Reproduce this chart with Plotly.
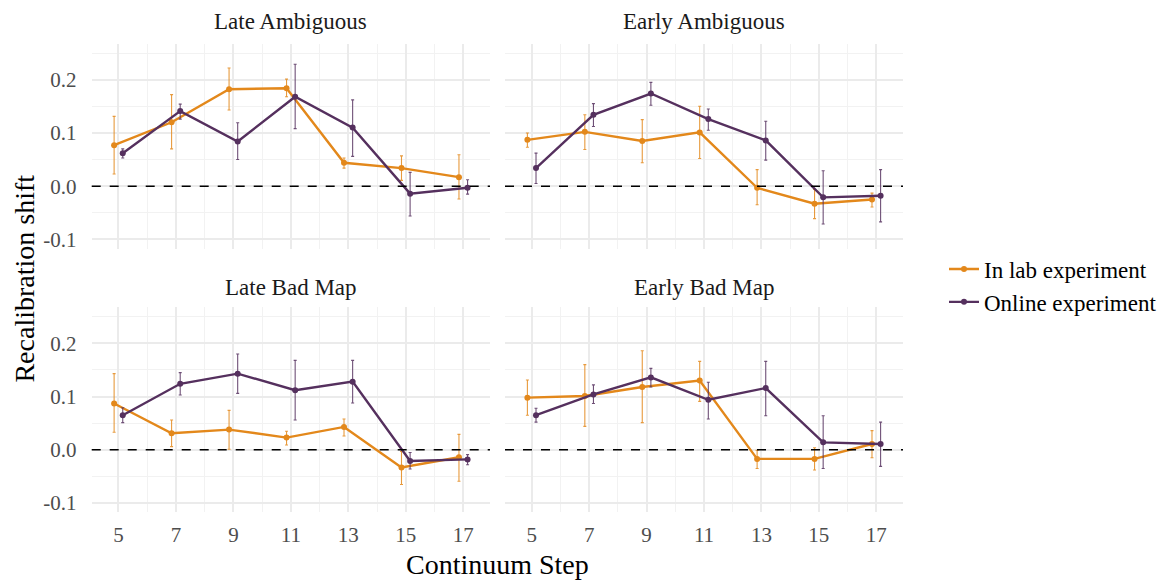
import plotly.graph_objects as go

W, H = 1163, 583

steps = [5, 7, 9, 11, 13, 15, 17]
panels = ["Late Ambiguous", "Early Ambiguous", "Late Bad Map", "Early Bad Map"]
groups = ["In lab experiment", "Online experiment"]

# mean, lower, upper for each panel / group
lab_mean = {
    "Late Ambiguous":  [0.077, 0.120, 0.182, 0.184, 0.044, 0.034, 0.017],
    "Early Ambiguous": [0.087, 0.102, 0.085, 0.101, -0.003, -0.033, -0.025],
    "Late Bad Map":    [0.087, 0.031, 0.038, 0.023, 0.043, -0.033, -0.014],
    "Early Bad Map":   [0.098, 0.101, 0.118, 0.130, -0.017, -0.017, 0.011],
}
lab_lo = {
    "Late Ambiguous":  [0.023, 0.070, 0.143, 0.168, 0.034, 0.011, -0.024],
    "Early Ambiguous": [0.073, 0.069, 0.044, 0.052, -0.035, -0.061, -0.039],
    "Late Bad Map":    [0.033, 0.006, 0.001, 0.009, 0.026, -0.065, -0.059],
    "Early Bad Map":   [0.065, 0.044, 0.051, 0.091, -0.035, -0.038, -0.015],
}
lab_hi = {
    "Late Ambiguous":  [0.131, 0.172, 0.222, 0.201, 0.053, 0.057, 0.059],
    "Early Ambiguous": [0.100, 0.134, 0.125, 0.150, 0.031, -0.006, -0.013],
    "Late Bad Map":    [0.143, 0.056, 0.074, 0.035, 0.058, -0.003, 0.029],
    "Early Bad Map":   [0.131, 0.160, 0.186, 0.166, -0.001, 0.004, 0.036],
}
online_mean = {
    "Late Ambiguous":  [0.062, 0.141, 0.084, 0.168, 0.110, -0.014, -0.003],
    "Early Ambiguous": [0.034, 0.134, 0.174, 0.126, 0.086, -0.021, -0.018],
    "Late Bad Map":    [0.065, 0.124, 0.143, 0.112, 0.128, -0.021, -0.018],
    "Early Bad Map":   [0.065, 0.104, 0.136, 0.094, 0.116, 0.014, 0.011],
}
online_lo = {
    "Late Ambiguous":  [0.053, 0.126, 0.050, 0.108, 0.056, -0.056, -0.015],
    "Early Ambiguous": [0.005, 0.112, 0.152, 0.105, 0.049, -0.071, -0.067],
    "Late Bad Map":    [0.051, 0.103, 0.106, 0.056, 0.088, -0.036, -0.028],
    "Early Bad Map":   [0.052, 0.087, 0.118, 0.058, 0.064, -0.035, -0.031],
}
online_hi = {
    "Late Ambiguous":  [0.070, 0.154, 0.119, 0.229, 0.162, 0.026, 0.012],
    "Early Ambiguous": [0.062, 0.155, 0.195, 0.145, 0.122, 0.029, 0.031],
    "Late Bad Map":    [0.079, 0.145, 0.180, 0.168, 0.168, -0.005, -0.009],
    "Early Bad Map":   [0.078, 0.122, 0.153, 0.127, 0.166, 0.064, 0.052],
}

x_ticks = [5, 7, 9, 11, 13, 15, 17]
x_minor = [6, 8, 10, 12, 14, 16]
y_ticks = [-0.1, 0.0, 0.1, 0.2]
y_ticklabels = ["-0.1", "0.0", "0.1", "0.2"]
y_minor = [-0.05, 0.05, 0.15, 0.25]

ORANGE = "#E3881B"
ORANGE_ERR = "rgba(227,136,27,0.85)"
PURPLE = "#55305E"
PURPLE_ERR = "rgba(85,48,94,0.85)"
FONT = "Liberation Serif, Times New Roman, serif"
DODGE = 0.15

series = [
    (groups[0], lab_mean, lab_lo, lab_hi, -DODGE, ORANGE, ORANGE_ERR),
    (groups[1], online_mean, online_lo, online_hi, DODGE, PURPLE, PURPLE_ERR),
]

def xd(a, b):
    return [a / W, b / W]

def yd(top, bottom):
    return [1 - bottom / H, 1 - top / H]

domains = [
    (xd(91.7, 490), yd(44, 250)),
    (xd(505, 903), yd(44, 250)),
    (xd(91.7, 490), yd(309, 515)),
    (xd(505, 903), yd(309, 515)),
]

fig = go.Figure()

for i, p in enumerate(panels):
    ax = "" if i == 0 else str(i + 1)
    for name, mean, lo, hi, off, col, ecol in series:
        m = mean[p]
        fig.add_trace(go.Scatter(
            x=[s + off for s in steps],
            y=m,
            mode="lines+markers",
            name=name,
            legendgroup=name,
            showlegend=(i == 0),
            line=dict(color=col, width=2.4),
            marker=dict(color=col, size=6),
            error_y=dict(
                type="data", symmetric=False,
                array=[h - v for h, v in zip(hi[p], m)],
                arrayminus=[v - l for v, l in zip(m, lo[p])],
                color=ecol, thickness=1.1, width=1.5,
            ),
            xaxis="x" + ax, yaxis="y" + ax,
        ))

grid_major = "#EBEBEB"
grid_minor = "#F2F2F2"

layout = dict(
    width=W, height=H,
    margin=dict(l=0, r=0, t=0, b=0),
    paper_bgcolor="white", plot_bgcolor="white",
    font=dict(family=FONT, color="#1A1A1A"),
    showlegend=True,
    legend=dict(
        x=944 / W, y=1 - 287 / H, xanchor="left", yanchor="middle",
        font=dict(family=FONT, size=23, color="#000000"),
        bgcolor="rgba(0,0,0,0)", itemwidth=30, tracegroupgap=0,
    ),
    annotations=[],
    shapes=[],
)

centers = [(290.9, 22), (704, 22), (290.9, 289), (704, 289)]

for i, p in enumerate(panels):
    ax = "" if i == 0 else str(i + 1)
    xdom, ydom = domains[i]
    bottom = i >= 2
    left = i % 2 == 0
    layout["xaxis" + ax] = dict(
        domain=xdom, anchor="y" + ax, range=[4.07, 17.93],
        tickvals=x_ticks, ticktext=[str(t) for t in x_ticks],
        showticklabels=bottom,
        tickfont=dict(family=FONT, size=21, color="#4D4D4D"),
        showgrid=True, gridcolor=grid_major, gridwidth=2,
        minor=dict(tickvals=x_minor, showgrid=True, gridcolor=grid_minor, gridwidth=1.1),
        zeroline=False, showline=False,
        ticks="outside", ticklen=3, tickcolor="rgba(0,0,0,0)",
    )
    layout["yaxis" + ax] = dict(
        domain=ydom, anchor="x" + ax, range=[-0.1174, 0.2674],
        tickvals=y_ticks, ticktext=y_ticklabels,
        showticklabels=left,
        tickfont=dict(family=FONT, size=21, color="#4D4D4D"),
        showgrid=True, gridcolor=grid_major, gridwidth=2,
        minor=dict(tickvals=y_minor, showgrid=True, gridcolor=grid_minor, gridwidth=1.1),
        zeroline=False, showline=False,
        ticks="outside", ticklen=10, tickcolor="rgba(0,0,0,0)",
    )
    cx, cy = centers[i]
    layout["annotations"].append(dict(
        text=p, x=cx / W, y=1 - cy / H, xref="paper", yref="paper",
        xanchor="center", yanchor="middle", showarrow=False,
        font=dict(family=FONT, size=23, color="#1A1A1A"),
    ))
    layout["shapes"].append(dict(
        type="line", xref="x" + ax + " domain", yref="y" + ax,
        x0=0, x1=1, y0=0, y1=0,
        line=dict(color="black", width=1.4, dash="dash"),
    ))

layout["annotations"].append(dict(
    text="Recalibration shift", x=25 / W, y=1 - 280 / H, xref="paper", yref="paper",
    xanchor="center", yanchor="middle", textangle=-90, showarrow=False,
    font=dict(family=FONT, size=28, color="#000000"),
))
layout["annotations"].append(dict(
    text="Continuum Step", x=497 / W, y=1 - 567 / H, xref="paper", yref="paper",
    xanchor="center", yanchor="middle", showarrow=False,
    font=dict(family=FONT, size=28, color="#000000"),
))

fig.update_layout(**layout)
fig.write_html("out.html")
